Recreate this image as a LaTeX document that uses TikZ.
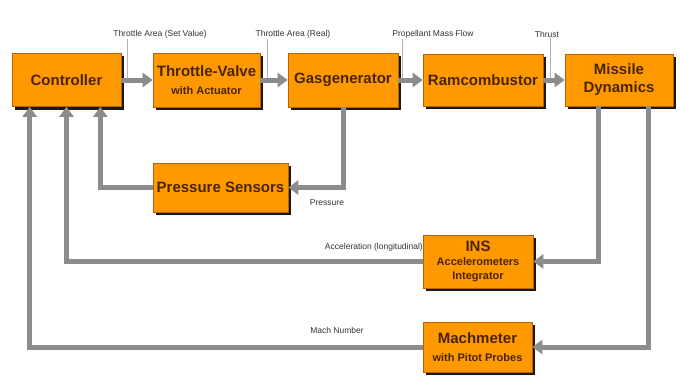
\documentclass[tikz,border=0pt]{standalone}
\usepackage{fontspec}
\setmainfont{Liberation Sans}
\usetikzlibrary{arrows.meta, backgrounds}
\definecolor{boxorange}{HTML}{FF9900}
\definecolor{boxtext}{HTML}{4A2400}
\definecolor{flowgray}{HTML}{8C8C8C}
\newcommand{\subline}[1]{{\fontsize{11}{13}\selectfont #1}}

\begin{document}
\begin{tikzpicture}[x=1pt, y=-1pt,
  block/.style={rectangle, draw=orange!75!black, line width=0.6pt, fill=boxorange,
    text=boxtext, font=\fontsize{15}{18}\selectfont\bfseries, align=center, inner sep=0pt},
  flow/.style={-{Triangle[length=10pt, width=14pt]}, line width=5pt, draw=flowgray},
  sig/.style={font=\fontsize{8.5}{10}\selectfont, text=black!80, inner sep=1pt},
  tickline/.style={draw=gray!60, line width=0.8pt}]
\useasboundingbox (0,0) rectangle (680,383);

% signal labels
\node[sig] (setval) at (160,34) {Throttle Area (Set Value)};
\node[sig] (realval) at (293,34) {Throttle Area (Real)};
\node[sig] (massflow) at (433,34) {Propellant Mass Flow};
\node[sig] (thrust) at (547,34) {Thrust};
\node[sig] (pressure) at (327,203) {Pressure};
\node[sig, anchor=east] (accel) at (424,247) {Acceleration (longitudinal)};
\node[sig] (machno) at (337,330) {Mach Number};

% blocks
\node[block, minimum width=109pt, minimum height=53pt] (ctrl) at (66.5,80) {Controller};
\node[block, minimum width=107pt, minimum height=54pt] (valve) at (206.5,80) {Throttle-Valve\\\subline{with Actuator}};
\node[block, minimum width=110pt, minimum height=54pt] (gas) at (343,80) {Gasgenerator};
\node[block, minimum width=120pt, minimum height=52pt] (ramc) at (483,80) {Ramcombustor};
\node[block, minimum width=108pt, minimum height=52pt] (miss) at (619,80) {Missile\\Dynamics};
\node[block, minimum width=135pt, minimum height=49pt] (press) at (220.5,187.5) {Pressure Sensors};
\node[block, minimum width=110pt, minimum height=53pt] (ins) at (478,261.5) {INS\\[-4pt]\subline{Accelerometers}\\[-4pt]\subline{Integrator}};
\node[block, minimum width=109pt, minimum height=50pt] (mach) at (477.5,347) {Machmeter\\\subline{with Pitot Probes}};

% page and shadows behind the blocks
\begin{scope}[on background layer]
\fill[white] (0,0) rectangle (680,383);
\foreach \b in {ctrl,valve,gas,ramc,miss,press,ins,mach}
  \fill[black!90] ([xshift=3pt,yshift=-3pt]\b.south west) rectangle ([xshift=3pt,yshift=-3pt]\b.north east);
\end{scope}

% label ticks
\draw[tickline] ([xshift=-33pt]setval.south) -- ([xshift=-33pt]setval.south |- ctrl.east);
\draw[tickline] ([xshift=-26pt]realval.south) -- ([xshift=-26pt]realval.south |- valve.east);
\draw[tickline] ([xshift=-31pt]massflow.south) -- ([xshift=-31pt]massflow.south |- gas.east);
\draw[tickline] ([xshift=3pt]thrust.south) -- ([xshift=3pt]thrust.south |- ramc.east);

% forward path
\draw[flow] (ctrl) -- (valve);
\draw[flow] (valve) -- (gas);
\draw[flow] (gas) -- (ramc);
\draw[flow] (ramc) -- (miss);

% feedback
\draw[flow] (gas.south) |- (press.east);
\draw[flow] ([xshift=-21pt]miss.south) |- (ins.east);
\draw[flow] ([xshift=29pt]miss.south) |- (mach.east);
\draw[flow] (press.west) -| ([xshift=-21pt]ctrl.south east);
\draw[flow] (ins.west) -| (ctrl.south);
\draw[flow] (mach.west) -| ([xshift=18pt]ctrl.south west);
\end{tikzpicture}
\end{document}
